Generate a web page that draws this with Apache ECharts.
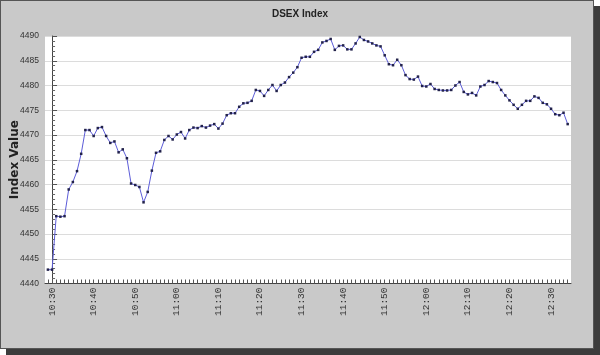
<!DOCTYPE html>
<html><head><meta charset="utf-8">
<script src="https://cdn.jsdelivr.net/npm/echarts@6/dist/echarts.min.js"></script>
<style>
html,body{margin:0;padding:0;background:#fff;width:600px;height:355px;overflow:hidden;}
#panel{position:absolute;left:0;top:0;width:592px;height:347px;background:#c9c9c9;border:1px solid #555;box-shadow:6px 6px 0 #3c3c3c;}
#chart{position:absolute;left:0;top:0;width:600px;height:355px;}
</style></head><body>
<div id="panel"></div><div id="chart"></div>
<script>
const times = [
'10:29','10:30','10:31','10:32','10:33','10:34','10:35','10:36','10:37','10:38','10:39',
'10:40','10:41','10:42','10:43','10:44','10:45','10:46','10:47','10:48','10:49',
'10:50','10:51','10:52','10:53','10:54','10:55','10:56','10:57','10:58','10:59',
'11:00','11:01','11:02','11:03','11:04','11:05','11:06','11:07','11:08','11:09',
'11:10','11:11','11:12','11:13','11:14','11:15','11:16','11:17','11:18','11:19',
'11:20','11:21','11:22','11:23','11:24','11:25','11:26','11:27','11:28','11:29',
'11:30','11:31','11:32','11:33','11:34','11:35','11:36','11:37','11:38','11:39',
'11:40','11:41','11:42','11:43','11:44','11:45','11:46','11:47','11:48','11:49',
'11:50','11:51','11:52','11:53','11:54','11:55','11:56','11:57','11:58','11:59',
'12:00','12:01','12:02','12:03','12:04','12:05','12:06','12:07','12:08','12:09',
'12:10','12:11','12:12','12:13','12:14','12:15','12:16','12:17','12:18','12:19',
'12:20','12:21','12:22','12:23','12:24','12:25','12:26','12:27','12:28','12:29',
'12:30','12:31','12:32','12:33','12:34'];
const values = [
4442.8,4442.8,4453.6,4453.5,4453.6,4459.0,4460.5,4462.7,4466.2,4471.0,4471.0,
4469.8,4471.4,4471.6,4469.8,4468.4,4468.7,4466.5,4467.1,4465.3,4460.2,
4459.9,4459.5,4456.4,4458.5,4462.8,4466.4,4466.7,4469.0,4469.8,4469.1,
4470.1,4470.6,4469.3,4471.0,4471.5,4471.4,4471.8,4471.5,4471.9,4472.2,
4471.3,4472.3,4474.0,4474.4,4474.4,4475.7,4476.4,4476.5,4476.9,4479.1,
4478.9,4477.9,4479.1,4480.1,4478.9,4480.1,4480.6,4481.7,4482.6,4483.7,
4485.6,4485.8,4485.8,4486.8,4487.2,4488.7,4489.0,4489.4,4487.2,4488.0,
4488.1,4487.3,4487.3,4488.5,4489.8,4489.2,4488.9,4488.5,4488.1,4487.9,
4486.1,4484.3,4484.1,4485.2,4484.1,4482.1,4481.3,4481.2,4481.8,4479.9,
4479.8,4480.3,4479.3,4479.1,4479.0,4479.0,4479.1,4480.0,4480.7,4478.7,
4478.2,4478.5,4478.0,4479.8,4480.1,4480.9,4480.7,4480.5,4479.1,4478.0,
4477.0,4476.1,4475.3,4476.1,4476.9,4476.9,4477.8,4477.5,4476.5,4476.2,
4475.3,4474.2,4474.0,4474.5,4472.2];
const tickLabels = ['10:30','10:40','10:50','11:00','11:10','11:20','11:30','11:40','11:50','12:00','12:10','12:20','12:30'];
const yMin = 4440, yMax = 4490, yStep = 5;

function toMin(t){ const p = t.split(':'); return (+p[0]) * 60 + (+p[1]) - 630; }
const labelMins = tickLabels.map(toMin);
const tickMins = times.map(toMin);
const seriesData = values.map((v, i) => [toMin(times[i]), v]);

const chart = echarts.init(document.getElementById('chart'), null, {renderer: 'canvas'});
chart.setOption({
  animation: false,
  backgroundColor: 'transparent',
  title: {
    text: 'DSEX Index', left: 'center', top: 4,
    textStyle: {fontFamily: 'Liberation Sans', fontSize: 10, fontWeight: 'bold', color: '#222'}
  },
  grid: {left: 45, right: 29, top: 36, bottom: 71.5, show: true, backgroundColor: '#ffffff', borderWidth: 0,
         containLabel: false, outerBoundsMode: 'none'},
  xAxis: {
    type: 'value', min: -1.7, max: 124.8,
    axisLine: {show: true, onZero: false, lineStyle: {color: '#444', width: 1}},
    axisTick: {show: true, inside: true, length: 4, customValues: tickMins, lineStyle: {color: '#555'}},
    axisLabel: {
      customValues: labelMins, rotate: 90, margin: 4,
      fontFamily: 'Liberation Mono', fontSize: 9.5, color: '#333',
      formatter: function (v) { const i = labelMins.indexOf(Math.round(v)); return i >= 0 ? tickLabels[i] : ''; }
    },
    splitLine: {show: false}
  },
  yAxis: {
    type: 'value', min: yMin, max: yMax, interval: yStep,
    name: 'Index Value', nameLocation: 'middle', nameGap: 24, nameRotate: 90, nameMoveOverlap: false,
    nameTextStyle: {fontFamily: 'DejaVu Sans', fontSize: 12, fontWeight: 'bold', color: '#222'},
    axisLine: {show: true, lineStyle: {color: '#444', width: 1}},
    axisTick: {show: true, inside: true, length: 5, lineStyle: {color: '#555'}},
    minorTick: {show: true, splitNumber: 5, length: 3, lineStyle: {color: '#666'}},
    axisLabel: {fontFamily: 'Liberation Sans', fontSize: 8.5, color: '#333', margin: 6,
                formatter: function (v) { return String(v); }},
    splitLine: {show: true, lineStyle: {color: '#dcdcdc', width: 1}}
  },
  series: [{
    type: 'line', data: seriesData,
    symbol: 'rect', symbolSize: 2.5, showAllSymbol: true,
    lineStyle: {color: '#5c5cd8', width: 1},
    itemStyle: {color: '#22224a'}
  }]
});
</script>
</body></html>
